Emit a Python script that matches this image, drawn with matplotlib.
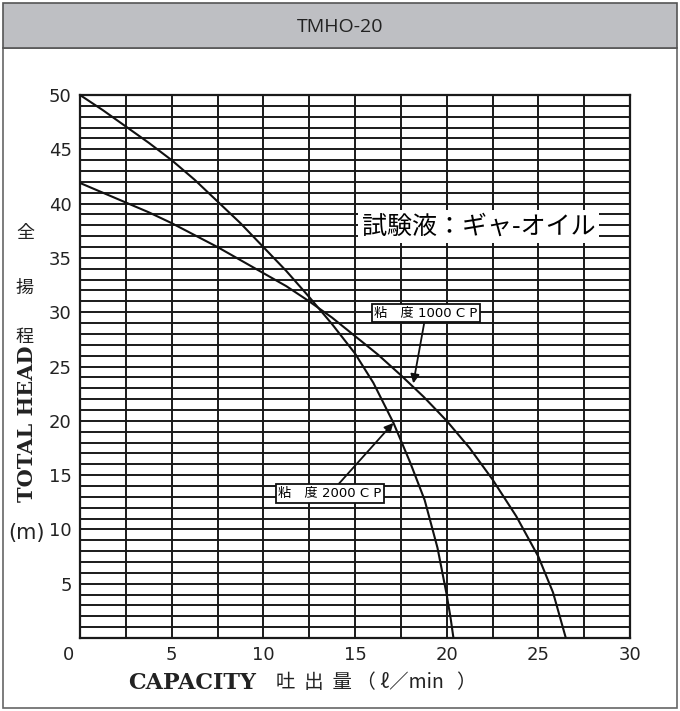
import numpy as np
import matplotlib
matplotlib.use('Agg')
import matplotlib.pyplot as plt
from matplotlib.patches import Rectangle
from matplotlib.ticker import MultipleLocator
import matplotlib.transforms as mtransforms

# Données
cap_2000 = [0, 1.25, 2.5, 3.75, 5, 6.25, 7.5, 8.75, 10, 11.25, 12.5, 13.75,
            15, 16, 17.1, 18, 18.8, 19.5, 20, 20.2, 20.37]
head_2000 = [50, 48.6, 47.1, 45.6, 44.0, 42.2, 40.2, 38.2, 36.0, 33.8, 31.4, 28.9,
             26.2, 23.5, 19.8, 16.2, 12.7, 8.3, 4.0, 2.0, 0]

cap_1000 = [0, 1.25, 2.5, 3.75, 5, 6.25, 7.5, 8.75, 10, 11.25, 12.5, 13.75,
            15, 16.25, 17.5, 18.75, 20, 21.25, 22.5, 23.8, 25, 25.8, 26.5]
head_1000 = [41.9, 41.0, 40.1, 39.2, 38.2, 37.1, 36.0, 34.8, 33.6, 32.4, 31.0, 29.5,
             27.8, 26.1, 24.2, 22.2, 20.0, 17.5, 14.6, 11.2, 7.5, 4.2, 0]

x_ticks = [0, 5, 10, 15, 20, 25, 30]
y_ticks = [5, 10, 15, 20, 25, 30, 35, 40, 45, 50]

title = 'TMHO-20'
label_1000 = '粘　度 1000 C P'
label_2000 = '粘　度 2000 C P'
fluid = '試験液：ギャ-オイル'

W, H = 680, 711
JP = ['Noto Sans CJK JP', 'DejaVu Sans']
LAT = ['DejaVu Sans', 'Noto Sans CJK JP']


def fx(px):
    return px / W


def fy(py):
    return 1 - py / H


def main():
    fig = plt.figure(figsize=(W / 100, H / 100), dpi=100)
    fig.patch.set_facecolor('white')

    # cadre + bandeau de titre
    fig.patches.append(Rectangle((fx(3), fy(708)), fx(674), (708 - 48) / H,
                                 transform=fig.transFigure, facecolor='white',
                                 edgecolor='#666666', lw=1.2, zorder=-2))
    fig.patches.append(Rectangle((fx(3), fy(48)), fx(674), 45 / H,
                                 transform=fig.transFigure, facecolor='#bebfc3',
                                 edgecolor='#555555', lw=1.2, zorder=-1))
    fig.text(0.5, fy(27), title, ha='center', va='center', fontsize=14,
             family='Open Sans', color='#222222')

    ax = fig.add_axes([fx(80), fy(638), fx(550), 543 / H])
    ax.set_zorder(1)
    ax.set_xlim(0, 30)
    ax.set_ylim(0, 50)

    ax.set_xticks(x_ticks)
    ax.set_yticks(y_ticks)
    ax.xaxis.set_minor_locator(MultipleLocator(2.5))
    ax.yaxis.set_minor_locator(MultipleLocator(1))
    ax.grid(which='both', color='#1a1a1a', lw=1.4)
    ax.set_axisbelow(True)
    ax.tick_params(which='both', length=0, labelsize=13, colors='#222222')
    ax.tick_params(axis='x', pad=6)
    ax.tick_params(axis='y', pad=6)
    for s in ax.spines.values():
        s.set_linewidth(1.6)
        s.set_color('#1a1a1a')
    # décaler le "0" vers la gauche
    lab0 = ax.get_xticklabels()[0]
    lab0.set_transform(lab0.get_transform() +
                       mtransforms.ScaledTranslation(-0.11, 0, fig.dpi_scale_trans))

    ax.plot(cap_2000, head_2000, color='#111111', lw=1.5, zorder=3)
    ax.plot(cap_1000, head_1000, color='#111111', lw=1.5, zorder=3)

    ax.text(21.75, 37.9, fluid, ha='center', va='center', fontsize=18,
            family=JP, zorder=5,
            bbox=dict(boxstyle='square,pad=0.15', facecolor='white', edgecolor='none'))

    arrow = dict(arrowstyle='-|>', color='#111111', lw=1.3, mutation_scale=13,
                 shrinkA=0, shrinkB=0)
    ax.annotate(label_1000, xy=(18.18, 23.45), xytext=(18.87, 29.9),
                ha='center', va='center', fontsize=9.5, family=LAT, zorder=6,
                bbox=dict(boxstyle='square,pad=0.2', facecolor='white',
                          edgecolor='#111111', lw=1.3),
                arrowprops=arrow)
    ax.annotate(label_2000, xy=(17.09, 19.8), xytext=(13.64, 13.3),
                ha='center', va='center', fontsize=9.5, family=LAT, zorder=6,
                bbox=dict(boxstyle='square,pad=0.2', facecolor='white',
                          edgecolor='#111111', lw=1.3),
                arrowprops=arrow)

    # titres des axes
    for ch, py in zip('全揚程', [233, 288, 337]):
        fig.text(fx(25), fy(py), ch, ha='center', va='center', fontsize=13,
                 family=JP, color='#222222')
    fig.text(fx(27), fy(424), 'TOTAL HEAD', rotation=90, ha='center', va='center',
             fontsize=15, family='DejaVu Serif', weight='bold', color='#222222')
    fig.text(fx(26), fy(533), '(m)', ha='center', va='center', fontsize=15,
             family='DejaVu Sans', color='#222222')

    fig.text(fx(128), fy(683), 'CAPACITY', ha='left', va='center', fontsize=16,
             family='DejaVu Serif', weight='bold', color='#222222')
    fig.text(fx(276), fy(683), '吐  出  量 （ ℓ／min   ）', ha='left', va='center',
             fontsize=14, family=JP, color='#222222')

    fig.savefig('out.png', dpi=100, facecolor='white')
    plt.close(fig)


if __name__ == '__main__':
    main()
